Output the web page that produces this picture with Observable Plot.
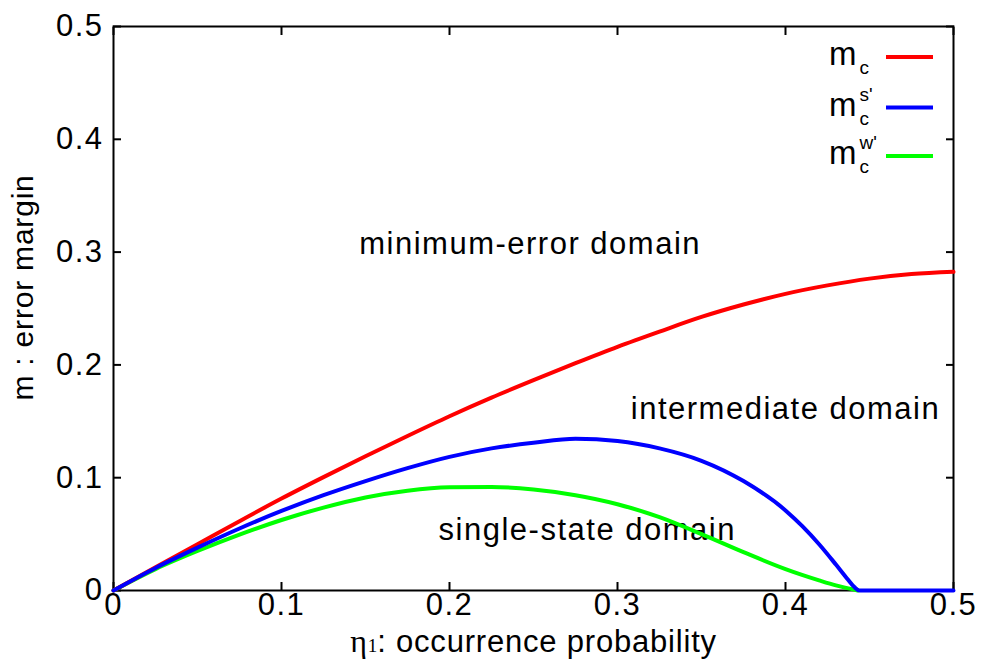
<!DOCTYPE html>
<html><head><meta charset="utf-8">
<script src="https://cdn.jsdelivr.net/npm/d3@7"></script>
<script src="https://cdn.jsdelivr.net/npm/@observablehq/plot@0.6"></script>
<style>
body{margin:0;background:#fff;}
#chart svg text{letter-spacing:1.5px;}
</style></head><body><div id="chart"></div>
<script>
// ---- data ----
const etaRed = [0, 0.025, 0.05, 0.075, 0.1, 0.125, 0.15, 0.175, 0.2, 0.225, 0.25, 0.275, 0.3, 0.325, 0.35, 0.375, 0.4, 0.425, 0.45, 0.475, 0.5];
const mRed   = [0, 0.0205, 0.041, 0.0615, 0.0815, 0.1005, 0.119, 0.137, 0.1545, 0.171, 0.1865, 0.2015, 0.216, 0.2295, 0.2425, 0.2535, 0.263, 0.2705, 0.2765, 0.2805, 0.2825];
const etaBlue = [0, 0.025, 0.05, 0.075, 0.1, 0.125, 0.15, 0.175, 0.2, 0.225, 0.25, 0.275, 0.3, 0.325, 0.35, 0.375, 0.4, 0.41, 0.42, 0.43, 0.437, 0.441, 0.444, 0.46, 0.48, 0.5];
const mBlue   = [0, 0.020, 0.038, 0.055, 0.0705, 0.0845, 0.097, 0.1085, 0.1185, 0.126, 0.131, 0.1345, 0.1325, 0.126, 0.115, 0.097, 0.071, 0.057, 0.041, 0.023, 0.010, 0.003, 0, 0, 0, 0];
const etaGreen = [0, 0.025, 0.05, 0.075, 0.1, 0.125, 0.15, 0.175, 0.2, 0.225, 0.25, 0.275, 0.3, 0.325, 0.35, 0.375, 0.4, 0.42, 0.43, 0.443];
const mGreen   = [0, 0.019, 0.035, 0.0495, 0.0625, 0.0735, 0.0825, 0.0885, 0.0915, 0.0918, 0.0895, 0.0845, 0.0765, 0.065, 0.050, 0.034, 0.019, 0.009, 0.0045, 0];
const xTicks = [0, 0.1, 0.2, 0.3, 0.4, 0.5];
const yTicks = [0, 0.1, 0.2, 0.3, 0.4, 0.5];
const domainText = ["minimum-error domain", "intermediate domain", "single-state domain"];
const domainEta  = [0.248, 0.400, 0.282];
const domainM    = [0.307, 0.1605, 0.054];
const xLabel = "η1: occurrence probability";
const yLabel = "m : error margin";
const legendSup = ["", "s'", "w'"];
const seriesColors = ["#ff0000", "#0000ff", "#00ff00"];

const rows = (xs, ys) => xs.map((x, i) => ({eta: x, m: ys[i]}));
const red = rows(etaRed, mRed), blue = rows(etaBlue, mBlue), green = rows(etaGreen, mGreen);
const domains = domainText.map((t, i) => ({t, eta: domainEta[i], m: domainM[i]}));
const fmt = d => d === 0 ? "0" : d3.format("~g")(d);
const FONT = "'Liberation Sans', Arial, Helvetica, sans-serif";

const plot = Plot.plot({
  width: 984, height: 659,
  marginLeft: 113, marginRight: 31, marginTop: 26, marginBottom: 69,
  style: {fontFamily: FONT, fontSize: "31px", color: "#000", background: "#fff", overflow: "visible"},
  x: {domain: [0, 0.5]},
  y: {domain: [0, 0.5]},
  marks: [
    Plot.frame({stroke: "#000", strokeWidth: 2}),
    Plot.axisX({ticks: xTicks, anchor: "bottom", tickSize: -8, strokeWidth: 2, fill: "none", label: null}),
    Plot.axisX({ticks: xTicks, anchor: "top", tickSize: -8, strokeWidth: 2, fill: "none", label: null}),
    Plot.axisY({ticks: yTicks, anchor: "left", tickSize: -8, strokeWidth: 2, fill: "none", label: null}),
    Plot.axisY({ticks: yTicks, anchor: "right", tickSize: -8, strokeWidth: 2, fill: "none", label: null}),
    Plot.axisX({ticks: xTicks, anchor: "bottom", tickSize: 0, tickPadding: 2, tickFormat: fmt, label: null, fill: "#000", fontSize: 31}),
    Plot.axisY({ticks: yTicks, anchor: "left", tickSize: 0, tickPadding: 10, tickFormat: fmt, label: null, fill: "#000", fontSize: 31}),
    Plot.text([yLabel], {frameAnchor: "left", textAnchor: "middle", rotate: -90, dx: -90, dy: -21, fontSize: 30, fill: "#000", lineAnchor: "middle"}),
    Plot.text([xLabel], {frameAnchor: "bottom", textAnchor: "middle", dy: 52, fontSize: 31, fill: "#000", lineAnchor: "middle"}),
    Plot.text(domains, {x: "eta", y: "m", text: "t", fontSize: 31, fill: "#000", lineAnchor: "middle"}),
    Plot.line(green, {x: "eta", y: "m", stroke: seriesColors[2], strokeWidth: 4, curve: "monotone-x"}),
    Plot.line(red, {x: "eta", y: "m", stroke: seriesColors[0], strokeWidth: 4, curve: "monotone-x"}),
    Plot.line(blue, {x: "eta", y: "m", stroke: seriesColors[1], strokeWidth: 4, curve: "monotone-x"})
  ]
});
document.getElementById("chart").appendChild(plot);

const svg = d3.select(plot);
svg.selectAll("text").filter(function() { return this.textContent === yLabel; }).style("letter-spacing", "0.8px");
// x-axis label: Greek eta and subscript 1 in a serif face
svg.selectAll("text").filter(function() { return this.textContent === xLabel; }).each(function() {
  const t = d3.select(this).style("letter-spacing", "0.8px");
  t.text(null);
  t.append("tspan").attr("font-family", "'Liberation Serif', 'Times New Roman', serif").attr("font-size", 32).text("η");
  t.append("tspan").attr("font-family", "'Liberation Serif', 'Times New Roman', serif").attr("font-size", 19).style("letter-spacing", "0px").text("1");
  t.append("tspan").text(": occurrence probability");
});

// legend (top-right, inside the frame): one text element per entry
const leg = svg.append("g").attr("font-family", FONT).attr("fill", "#000").attr("text-anchor", "start");
const legRowY = [57, 107.5, 156];
legendSup.forEach((sup, i) => {
  const ly = legRowY[i];
  leg.append("line").attr("x1", 886).attr("x2", 933).attr("y1", ly).attr("y2", ly)
    .attr("stroke", seriesColors[i]).attr("stroke-width", 4);
  const t = leg.append("text").attr("x", 829).attr("y", ly + 8).attr("text-anchor", "start").style("letter-spacing", "0px");
  t.append("tspan").attr("font-size", 33).text("m");
  t.append("tspan").attr("font-size", 19).attr("dx", 3).attr("dy", 9).text("c");
  if (sup) t.append("tspan").attr("font-size", 19).attr("dx", -9.5).attr("dy", -24).text(sup);
});
</script></body></html>
